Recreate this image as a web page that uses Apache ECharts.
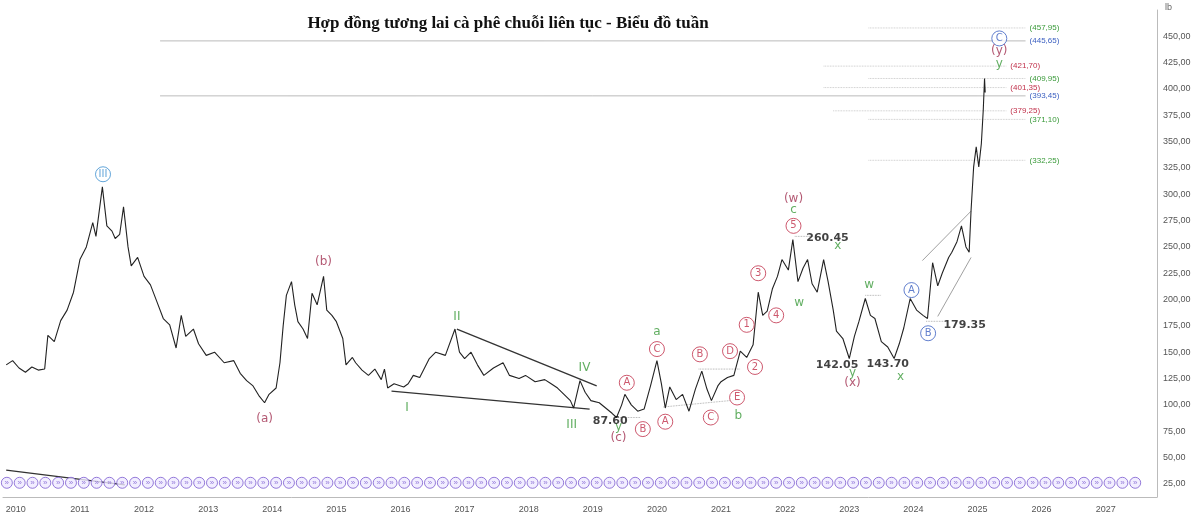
<!DOCTYPE html>
<html><head><meta charset="utf-8">
<script src="https://cdn.jsdelivr.net/npm/echarts@6/dist/echarts.min.js"></script>
<style>html,body{margin:0;background:#fff}#c{width:1200px;height:518px}</style></head>
<body><div id="c"></div>
<script>
const title = "Hợp đồng tương lai cà phê chuỗi liên tục - Biểu đồ tuần";
const price = [[2009.85,138],[2009.95,142],[2010.05,135],[2010.15,131],[2010.25,136],[2010.35,133],[2010.45,134],[2010.5,166],[2010.6,160],[2010.7,180],[2010.8,190],[2010.9,207],[2011.0,238],[2011.1,250],[2011.2,273],[2011.25,260],[2011.35,307],[2011.42,270],[2011.5,265],[2011.55,258],[2011.62,262],[2011.68,288],[2011.75,250],[2011.8,232],[2011.9,240],[2012.0,222],[2012.1,214],[2012.2,198],[2012.3,182],[2012.4,176],[2012.5,154],[2012.58,185],[2012.65,165],[2012.77,172],[2012.85,158],[2012.97,147],[2013.1,150],[2013.25,140],[2013.4,142],[2013.5,130],[2013.6,123],[2013.7,118],[2013.8,108],[2013.88,102],[2013.95,110],[2014.06,116],[2014.12,140],[2014.17,175],[2014.22,204],[2014.3,217],[2014.35,195],[2014.4,179],[2014.48,172],[2014.55,163],[2014.62,206],[2014.7,195],[2014.8,222],[2014.85,190],[2014.93,185],[2015.0,179],[2015.1,163],[2015.15,138],[2015.25,145],[2015.3,140],[2015.4,133],[2015.5,128],[2015.6,134],[2015.7,124],[2015.75,134],[2015.8,116],[2015.9,120],[2016.05,117],[2016.12,120],[2016.2,128],[2016.3,126],[2016.45,144],[2016.55,150],[2016.7,147],[2016.85,172],[2016.92,150],[2017.0,144],[2017.1,150],[2017.2,138],[2017.3,128],[2017.45,135],[2017.6,140],[2017.7,128],[2017.85,125],[2017.95,128],[2018.1,122],[2018.25,124],[2018.35,120],[2018.45,116],[2018.55,110],[2018.65,104],[2018.7,97],[2018.8,123],[2018.88,112],[2018.97,104],[2019.1,102],[2019.2,97],[2019.3,92],[2019.37,88],[2019.45,100],[2019.5,110],[2019.6,100],[2019.7,94],[2019.8,96],[2019.9,118],[2020.0,142],[2020.07,120],[2020.13,97],[2020.2,117],[2020.3,105],[2020.4,110],[2020.5,94],[2020.6,115],[2020.7,132],[2020.78,115],[2020.85,104],[2020.95,118],[2021.0,122],[2021.1,126],[2021.2,128],[2021.3,151],[2021.4,145],[2021.5,157],[2021.58,207],[2021.65,185],[2021.72,189],[2021.8,210],[2021.88,222],[2021.95,238],[2022.05,228],[2022.12,257],[2022.2,217],[2022.28,230],[2022.35,238],[2022.42,215],[2022.5,207],[2022.6,238],[2022.67,217],[2022.75,190],[2022.8,170],[2022.9,163],[2023.0,144],[2023.08,165],[2023.15,179],[2023.25,201],[2023.33,185],[2023.4,182],[2023.5,160],[2023.6,155],[2023.7,144],[2023.78,158],[2023.85,173],[2023.95,201],[2024.05,190],[2024.15,185],[2024.22,182],[2024.3,235],[2024.38,213],[2024.45,225],[2024.55,240],[2024.6,245],[2024.68,255],[2024.75,270],[2024.82,250],[2024.87,245],[2024.9,285],[2024.94,326],[2024.98,345],[2025.02,326],[2025.06,348],[2025.09,380],[2025.11,410],[2025.12,396.7]];
const lastPrice = 396.7;
const fibLevels = [[2023.3,2025.75,457.95,'#3a9a3a'],[2012.25,2025.75,445.65,'#3b5fc0'],[2022.6,2025.45,421.70,'#c0304a'],[2023.3,2025.75,409.95,'#3a9a3a'],[2022.6,2025.45,401.35,'#c0304a'],[2012.25,2025.75,393.45,'#3b5fc0'],[2022.75,2025.45,379.25,'#c0304a'],[2023.3,2025.75,371.10,'#3a9a3a'],[2023.3,2025.75,332.25,'#3a9a3a']];
const trendLines = [[[2016.88,172],[2019.06,118]],[[2015.86,113],[2018.95,96]],[[2024.14,237],[2024.9,284]],[[2024.38,184],[2024.9,240]],[[2009.85,38],[2011.7,24]]];
const dottedLines = [[[2019.35,88],[2019.75,88]],[[2020.65,134],[2021.3,134]],[[2020.1,98],[2021.3,105]],[[2022.15,260],[2022.45,260]],[[2023.25,204],[2023.5,204]],[[2024.2,179.35],[2024.55,179.35]]];
const labels = [[2011.36,319,'III','#3b8fd0',1],[2014.8,236,'(b)','#a03050',0],[2013.88,87,'(a)','#a03050',0],[2016.1,97,'I','#3a9a3a',0],[2016.88,184,'II','#3a9a3a',0],[2018.87,135,'IV','#3a9a3a',0],[2018.67,81,'III','#3a9a3a',0],[2019.4,79,'y','#3a9a3a',0],[2019.4,69,'(c)','#a03050',0],[2019.53,121,'A','#c0304a',1],[2019.78,77,'B','#c0304a',1],[2020.0,153,'C','#c0304a',1],[2020.0,169,'a','#3a9a3a',0],[2020.13,84,'A','#c0304a',1],[2020.67,148,'B','#c0304a',1],[2020.84,88,'C','#c0304a',1],[2021.14,151,'D','#c0304a',1],[2021.25,107,'E','#c0304a',1],[2021.27,90,'b','#3a9a3a',0],[2021.53,136,'2','#c0304a',1],[2021.4,176,'1','#c0304a',1],[2021.58,225,'3','#c0304a',1],[2021.86,185,'4','#c0304a',1],[2022.13,270,'5','#c0304a',1],[2022.13,285,'c','#3a9a3a',0],[2022.13,296,'(w)','#a03050',0],[2022.82,251,'x','#3a9a3a',0],[2022.22,197,'w','#3a9a3a',0],[2023.31,214,'w','#3a9a3a',0],[2023.05,130,'y','#3a9a3a',0],[2023.05,121,'(x)','#a03050',0],[2023.8,127,'x','#3a9a3a',0],[2023.97,209,'A','#3b5fc0',1],[2024.23,168,'B','#3b5fc0',1],[2025.34,448,'C','#3b5fc0',1],[2025.34,436,'(y)','#a03050',0],[2025.34,424,'y','#3a9a3a',0]];
const valueLabels = [[2019.27,85,'87.60'],[2022.66,258,'260.45'],[2022.81,138,'142.05'],[2023.6,139,'143.70'],[2024.8,176,'179.35']];
const eventDates = [2009.86,2010.06,2010.26,2010.46,2010.66,2010.86,2011.06,2011.26,2011.46,2011.66,2011.86,2012.06,2012.26,2012.46,2012.66,2012.86,2013.06,2013.26,2013.46,2013.66,2013.86,2014.06,2014.26,2014.46,2014.66,2014.86,2015.06,2015.26,2015.46,2015.66,2015.86,2016.06,2016.26,2016.46,2016.66,2016.86,2017.06,2017.26,2017.46,2017.66,2017.86,2018.06,2018.26,2018.46,2018.66,2018.86,2019.06,2019.26,2019.46,2019.66,2019.86,2020.06,2020.26,2020.46,2020.66,2020.86,2021.06,2021.26,2021.46,2021.66,2021.86,2022.06,2022.26,2022.46,2022.66,2022.86,2023.06,2023.26,2023.46,2023.66,2023.86,2024.06,2024.26,2024.46,2024.66,2024.86,2025.06,2025.26,2025.46,2025.66,2025.86,2026.06,2026.26,2026.46,2026.66,2026.86,2027.06,2027.26,2027.46];
const eventLevel = 26;

const series = [];
series.push({type:'line',data:price,symbol:'none',lineStyle:{color:'#222',width:1.1},z:5,
  markLine:{symbol:'none',silent:true,lineStyle:{opacity:0},data:[{yAxis:lastPrice}],
    label:{position:'end',formatter:'396,70',color:'#fff',backgroundColor:'#111',padding:[3,4],fontSize:10,fontWeight:'bold',distance:6}}});
fibLevels.forEach(f=>{
  const solid = f[3]==='#3b5fc0';
  series.push({type:'line',data:[[f[0],f[2]],[f[1],f[2]]],symbol:'none',silent:true,
    lineStyle:{color:solid?'#aaa':'#bbb',width:0.8,type:solid?'solid':'dotted'},
    endLabel:{show:true,formatter:'('+f[2].toFixed(2).replace('.',',')+')',color:f[3],fontSize:8,distance:4}});
});
trendLines.forEach((t,i)=>series.push({type:'line',data:t,symbol:'none',silent:true,lineStyle:{color:i>=2&&i<4?'#888':'#333',width:i>=2&&i<4?0.8:1.3}}));
dottedLines.forEach(t=>series.push({type:'line',data:t,symbol:'none',silent:true,lineStyle:{color:'#999',width:0.8,type:'dotted'}}));
series.push({type:'scatter',silent:true,z:10,data:labels.map(l=>({value:[l[0],l[1]],symbolSize:l[4]?15:0,
  itemStyle:{color:'#fff',borderColor:l[3],borderWidth:1},
  label:{show:true,position:'inside',formatter:l[2],color:l[3],fontSize:l[4]?10:12,fontFamily:'DejaVu Sans'}}))});
series.push({type:'scatter',silent:true,z:10,symbolSize:0,data:valueLabels.map(l=>({value:[l[0],l[1]],
  label:{show:true,position:'inside',formatter:l[2],color:'#111',fontSize:11,fontWeight:'bold',fontFamily:'DejaVu Sans'}}))});
series.push({type:'scatter',silent:true,z:3,symbol:'circle',symbolSize:11,data:eventDates.map(d=>[d,eventLevel]),
  itemStyle:{color:'#efeaff',borderColor:'#7a5ad0',borderWidth:1},
  label:{show:true,position:'inside',formatter:'»',color:'#7a5ad0',fontSize:8}});

const chart = echarts.init(document.getElementById('c'));
chart.setOption({
  animation:false,
  title:{text:title,left:503,top:10,textAlign:'center',textStyle:{fontFamily:'Liberation Serif',fontWeight:'bold',fontSize:17,color:'#111'}},
  grid:{left:0,right:43,top:10,bottom:21},
  xAxis:{type:'value',min:2009.8,max:2027.8,interval:0.2,
    axisLine:{lineStyle:{color:'#bbb'}},axisTick:{show:false},splitLine:{show:false},
    axisLabel:{color:'#555',fontSize:9,hideOverlap:false,showMinLabel:true,showMaxLabel:false,
      formatter:v=>Math.abs(v-Math.round(v))<1e-6?String(Math.round(v)):''}},
  yAxis:{type:'value',position:'right',min:12.5,max:475,interval:12.5,name:'lb',nameLocation:'end',nameGap:-2,
    nameTextStyle:{color:'#666',fontSize:9,align:'left',padding:[0,0,0,8]},
    axisLine:{show:true,lineStyle:{color:'#bbb'}},axisTick:{show:false},splitLine:{show:false},
    axisLabel:{color:'#555',fontSize:9,margin:6,formatter:v=>(Math.abs(v/25-Math.round(v/25))<1e-6&&v>=25&&v<=450)?v.toFixed(2).replace('.',','):''}},
  series
});
</script></body></html>
